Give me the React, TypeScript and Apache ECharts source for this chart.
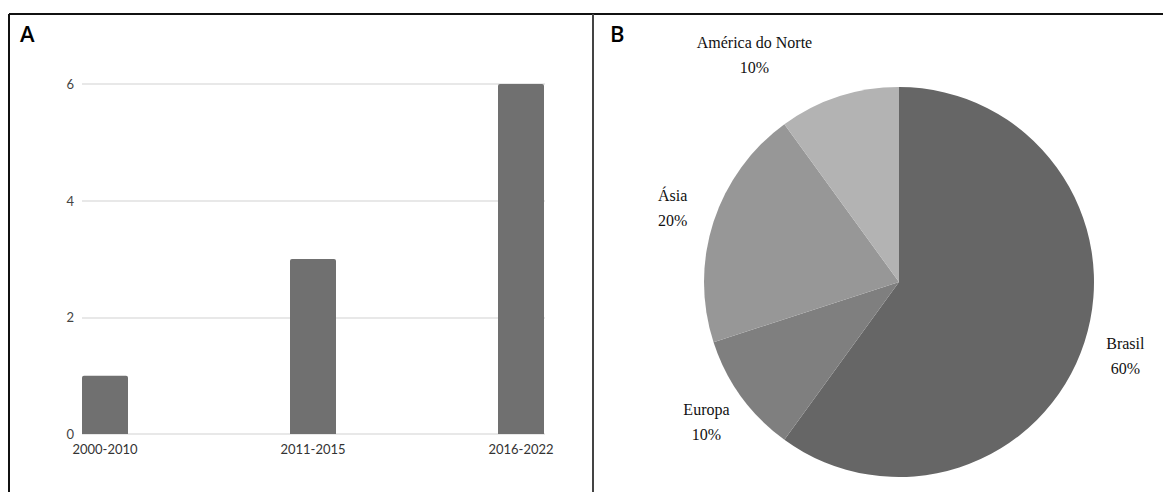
import React, { useEffect, useRef } from "react";
import * as echarts from "echarts";

const barCategories = ["2000-2010", "2011-2015", "2016-2022"];
const barValues = [1, 3, 6];
const yTicks = { min: 0, max: 6, interval: 2 };

const pieNames = ["Brasil", "Europa", "Ásia", "América do Norte"];
const pieValues = [60, 10, 20, 10];
const pieColors = ["#666666", "#7f7f7f", "#979797", "#b3b3b3"];

export default function App() {
  const ref = useRef<HTMLDivElement>(null);
  useEffect(() => {
    if (!ref.current) return;
    const chart = echarts.init(ref.current, null, { renderer: "svg" });
    const pieData = pieNames.map((n, i) => ({
      name: n,
      value: pieValues[i],
      itemStyle: { color: pieColors[i] },
    }));
    const labelData = pieNames.map((n, i) => ({
      name: n,
      value: pieValues[i],
      label: n === "América do Norte" ? { offset: [-71, -1] } : undefined,
    }));
    chart.setOption({
      animation: false,
      backgroundColor: "#ffffff",
      grid: [
        { left: 82, width: 463, top: 84, height: 350 },
        { left: 105, width: 416, top: 84, height: 350 },
      ],
      xAxis: [
        { gridIndex: 0, type: "value", min: 0, max: 1, show: false },
        {
          gridIndex: 1,
          type: "category",
          boundaryGap: false,
          data: barCategories,
          axisLine: { show: false },
          axisTick: { show: false },
          axisLabel: {
            margin: 8,
            fontSize: 13,
            fontFamily: "Lato",
            color: "#333333",
          },
        },
      ],
      yAxis: [
        {
          gridIndex: 0,
          type: "value",
          min: yTicks.min,
          max: yTicks.max,
          interval: yTicks.interval,
          axisLine: { show: false },
          axisTick: { show: false },
          axisLabel: {
            margin: 8,
            fontSize: 13,
            fontFamily: "Lato",
            color: "#444444",
          },
          splitLine: { lineStyle: { color: "#e8e8e8", width: 2 } },
        },
        {
          gridIndex: 1,
          type: "value",
          min: yTicks.min,
          max: yTicks.max,
          show: false,
        },
      ],
      series: [
        {
          type: "bar",
          xAxisIndex: 1,
          yAxisIndex: 1,
          data: barValues,
          barWidth: 46,
          clip: false,
          itemStyle: { color: "#707070", borderRadius: [2, 2, 0, 0] },
          silent: true,
        },
        {
          type: "pie",
          center: [899, 282],
          radius: 195,
          startAngle: 90,
          clockwise: true,
          data: pieData,
          label: { show: false },
          labelLine: { show: false },
          silent: true,
        },
        {
          type: "pie",
          center: [899, 282],
          radius: [195, 275],
          startAngle: 90,
          clockwise: true,
          data: labelData,
          itemStyle: { color: "rgba(0,0,0,0)" },
          label: {
            show: true,
            position: "inside",
            formatter: "{b}\n{d}%",
            fontFamily: "Liberation Serif",
            fontSize: 16,
            lineHeight: 25,
            color: "#111111",
            align: "center",
          },
          labelLine: { show: false },
          silent: true,
        },
      ],
      graphic: [
        { type: "line", shape: { x1: 9, y1: 14, x2: 1163, y2: 14 }, style: { stroke: "#111111", lineWidth: 2 } },
        { type: "line", shape: { x1: 9, y1: 14, x2: 9, y2: 492 }, style: { stroke: "#111111", lineWidth: 2 } },
        { type: "line", shape: { x1: 593, y1: 14, x2: 593, y2: 492 }, style: { stroke: "#444444", lineWidth: 2 } },
        { type: "text", x: 20, y: 33, style: { text: "A", fontFamily: "Open Sans", fontSize: 22, fontWeight: 600, fill: "#000000", textVerticalAlign: "middle" } },
        { type: "text", x: 610, y: 33, style: { text: "B", fontFamily: "Open Sans", fontSize: 22, fontWeight: 600, fill: "#000000", textVerticalAlign: "middle" } },
      ],
    });
    return () => chart.dispose();
  }, []);
  return (
    <div
      ref={ref}
      style={{ position: "fixed", left: 0, top: 0, width: 1163, height: 492 }}
    />
  );
}
